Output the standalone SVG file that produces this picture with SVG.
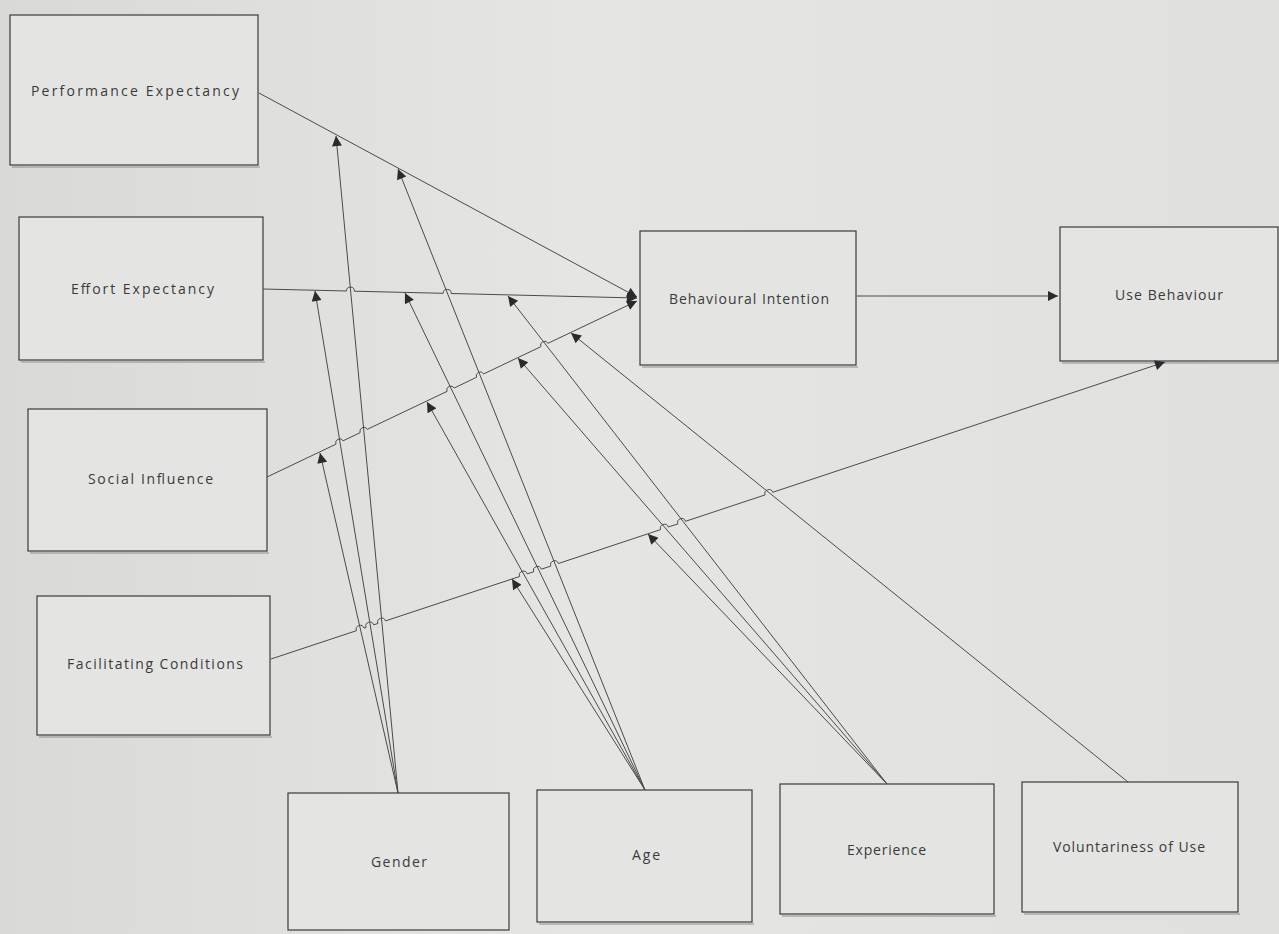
<svg xmlns="http://www.w3.org/2000/svg" width="1279" height="934" viewBox="0 0 1279 934">
<defs>
<linearGradient id="bg" x1="0" y1="0" x2="1" y2="0">
<stop offset="0" stop-color="#d9dad8"/>
<stop offset="0.45" stop-color="#e5e6e4"/>
<stop offset="1" stop-color="#e0e1df"/>
</linearGradient>
<marker id="arr" viewBox="0 0 10 10" refX="10" refY="5" markerWidth="12" markerHeight="10" markerUnits="userSpaceOnUse" orient="auto">
<path d="M0,0 L10,5 L0,10 z" fill="#2a2a2a"/>
</marker>
<style>
.box{fill:#e4e5e3;stroke:#3a3a3a;stroke-width:1.2}
.sh{fill:none;stroke:#9a9a9a;stroke-width:2;opacity:0.6}
.lbl{font-family:"Open Sans","Liberation Sans",sans-serif;font-size:14px;fill:#3a3a3a}
.con{fill:none;stroke:#4a4a4a;stroke-width:1;marker-end:url(#arr)}
</style>
</defs>
<rect width="1279" height="934" fill="url(#bg)"/>
<g id="performance-expectancy">
<line class="sh" x1="12" y1="167" x2="260" y2="167"/>
<rect class="box" x="10" y="15" width="248" height="150"/>
<text class="lbl" x="31" y="96" textLength="208" lengthAdjust="spacing">Performance Expectancy</text>
</g>
<g id="effort-expectancy">
<line class="sh" x1="21" y1="362" x2="265" y2="362"/>
<rect class="box" x="19" y="217" width="244" height="143"/>
<text class="lbl" x="71" y="294" textLength="143" lengthAdjust="spacing">Effort Expectancy</text>
</g>
<g id="social-influence">
<line class="sh" x1="30" y1="553" x2="269" y2="553"/>
<rect class="box" x="28" y="409" width="239" height="142"/>
<text class="lbl" x="88" y="484" textLength="125" lengthAdjust="spacing">Social Influence</text>
</g>
<g id="facilitating-conditions">
<line class="sh" x1="39" y1="737" x2="272" y2="737"/>
<rect class="box" x="37" y="596" width="233" height="139"/>
<text class="lbl" x="67" y="669" textLength="176" lengthAdjust="spacing">Facilitating Conditions</text>
</g>
<g id="behavioural-intention">
<line class="sh" x1="642" y1="367" x2="858" y2="367"/>
<rect class="box" x="640" y="231" width="216" height="134"/>
<text class="lbl" x="669" y="304" textLength="160" lengthAdjust="spacing">Behavioural Intention</text>
</g>
<g id="use-behaviour">
<line class="sh" x1="1062" y1="363" x2="1279" y2="363"/>
<rect class="box" x="1060" y="227" width="218" height="134"/>
<text class="lbl" x="1115" y="300" textLength="108" lengthAdjust="spacing">Use Behaviour</text>
</g>
<g id="gender">
<rect class="box" x="288" y="793" width="221" height="137"/>
<text class="lbl" x="371" y="867" textLength="56" lengthAdjust="spacing">Gender</text>
</g>
<g id="age">
<line class="sh" x1="539" y1="924" x2="754" y2="924"/>
<rect class="box" x="537" y="790" width="215" height="132"/>
<text class="lbl" x="632" y="860" textLength="28" lengthAdjust="spacing">Age</text>
</g>
<g id="experience">
<line class="sh" x1="782" y1="916" x2="996" y2="916"/>
<rect class="box" x="780" y="784" width="214" height="130"/>
<text class="lbl" x="847" y="855" textLength="79" lengthAdjust="spacing">Experience</text>
</g>
<g id="voluntariness-of-use">
<line class="sh" x1="1024" y1="914" x2="1240" y2="914"/>
<rect class="box" x="1022" y="782" width="216" height="130"/>
<text class="lbl" x="1053" y="852" textLength="152" lengthAdjust="spacing">Voluntariness of Use</text>
</g>
<g id="connectors">
<path class="con" d="M259,93 L637,297"/>
<path class="con" d="M263,289 L346.4,291.0 A4,4 0 0 1 354.4,291.2 L443.2,293.3 A4,4 0 0 1 451.2,293.5 L637,298"/>
<path class="con" d="M267,477 L335.9,444.2 A4,4 0 0 1 343.1,440.8 L360.1,432.7 A4,4 0 0 1 367.3,429.3 L447.0,391.4 A4,4 0 0 1 454.2,388.0 L476.5,377.3 A4,4 0 0 1 483.7,373.9 L540.8,346.7 A4,4 0 0 1 548.0,343.3 L637,301"/>
<path class="con" d="M271,659 L356.4,630.7 A4,4 0 0 1 364.0,628.1 L366.1,627.4 A4,4 0 0 1 373.7,624.8 L377.9,623.5 A4,4 0 0 1 385.5,620.9 L519.6,576.5 A4,4 0 0 1 527.2,573.9 L533.7,571.8 A4,4 0 0 1 541.3,569.2 L550.8,566.1 A4,4 0 0 1 558.4,563.5 L660.6,529.6 A4,4 0 0 1 668.2,527.0 L677.9,523.9 A4,4 0 0 1 685.5,521.3 L765.1,494.9 A4,4 0 0 1 772.7,492.3 L1165,362"/>
<path class="con" d="M857,296 L1058,296"/>
<path class="con" d="M398,793 L336,136"/>
<path class="con" d="M398,793 L315,291"/>
<path class="con" d="M398,793 L320,453"/>
<path class="con" d="M645,790 L398,169"/>
<path class="con" d="M645,790 L405,293"/>
<path class="con" d="M645,790 L427,402"/>
<path class="con" d="M645,790 L512,579"/>
<path class="con" d="M887,784 L508,296"/>
<path class="con" d="M887,784 L518,358"/>
<path class="con" d="M887,784 L648,534"/>
<path class="con" d="M1128,782 L571,333"/>
</g>
</svg>
